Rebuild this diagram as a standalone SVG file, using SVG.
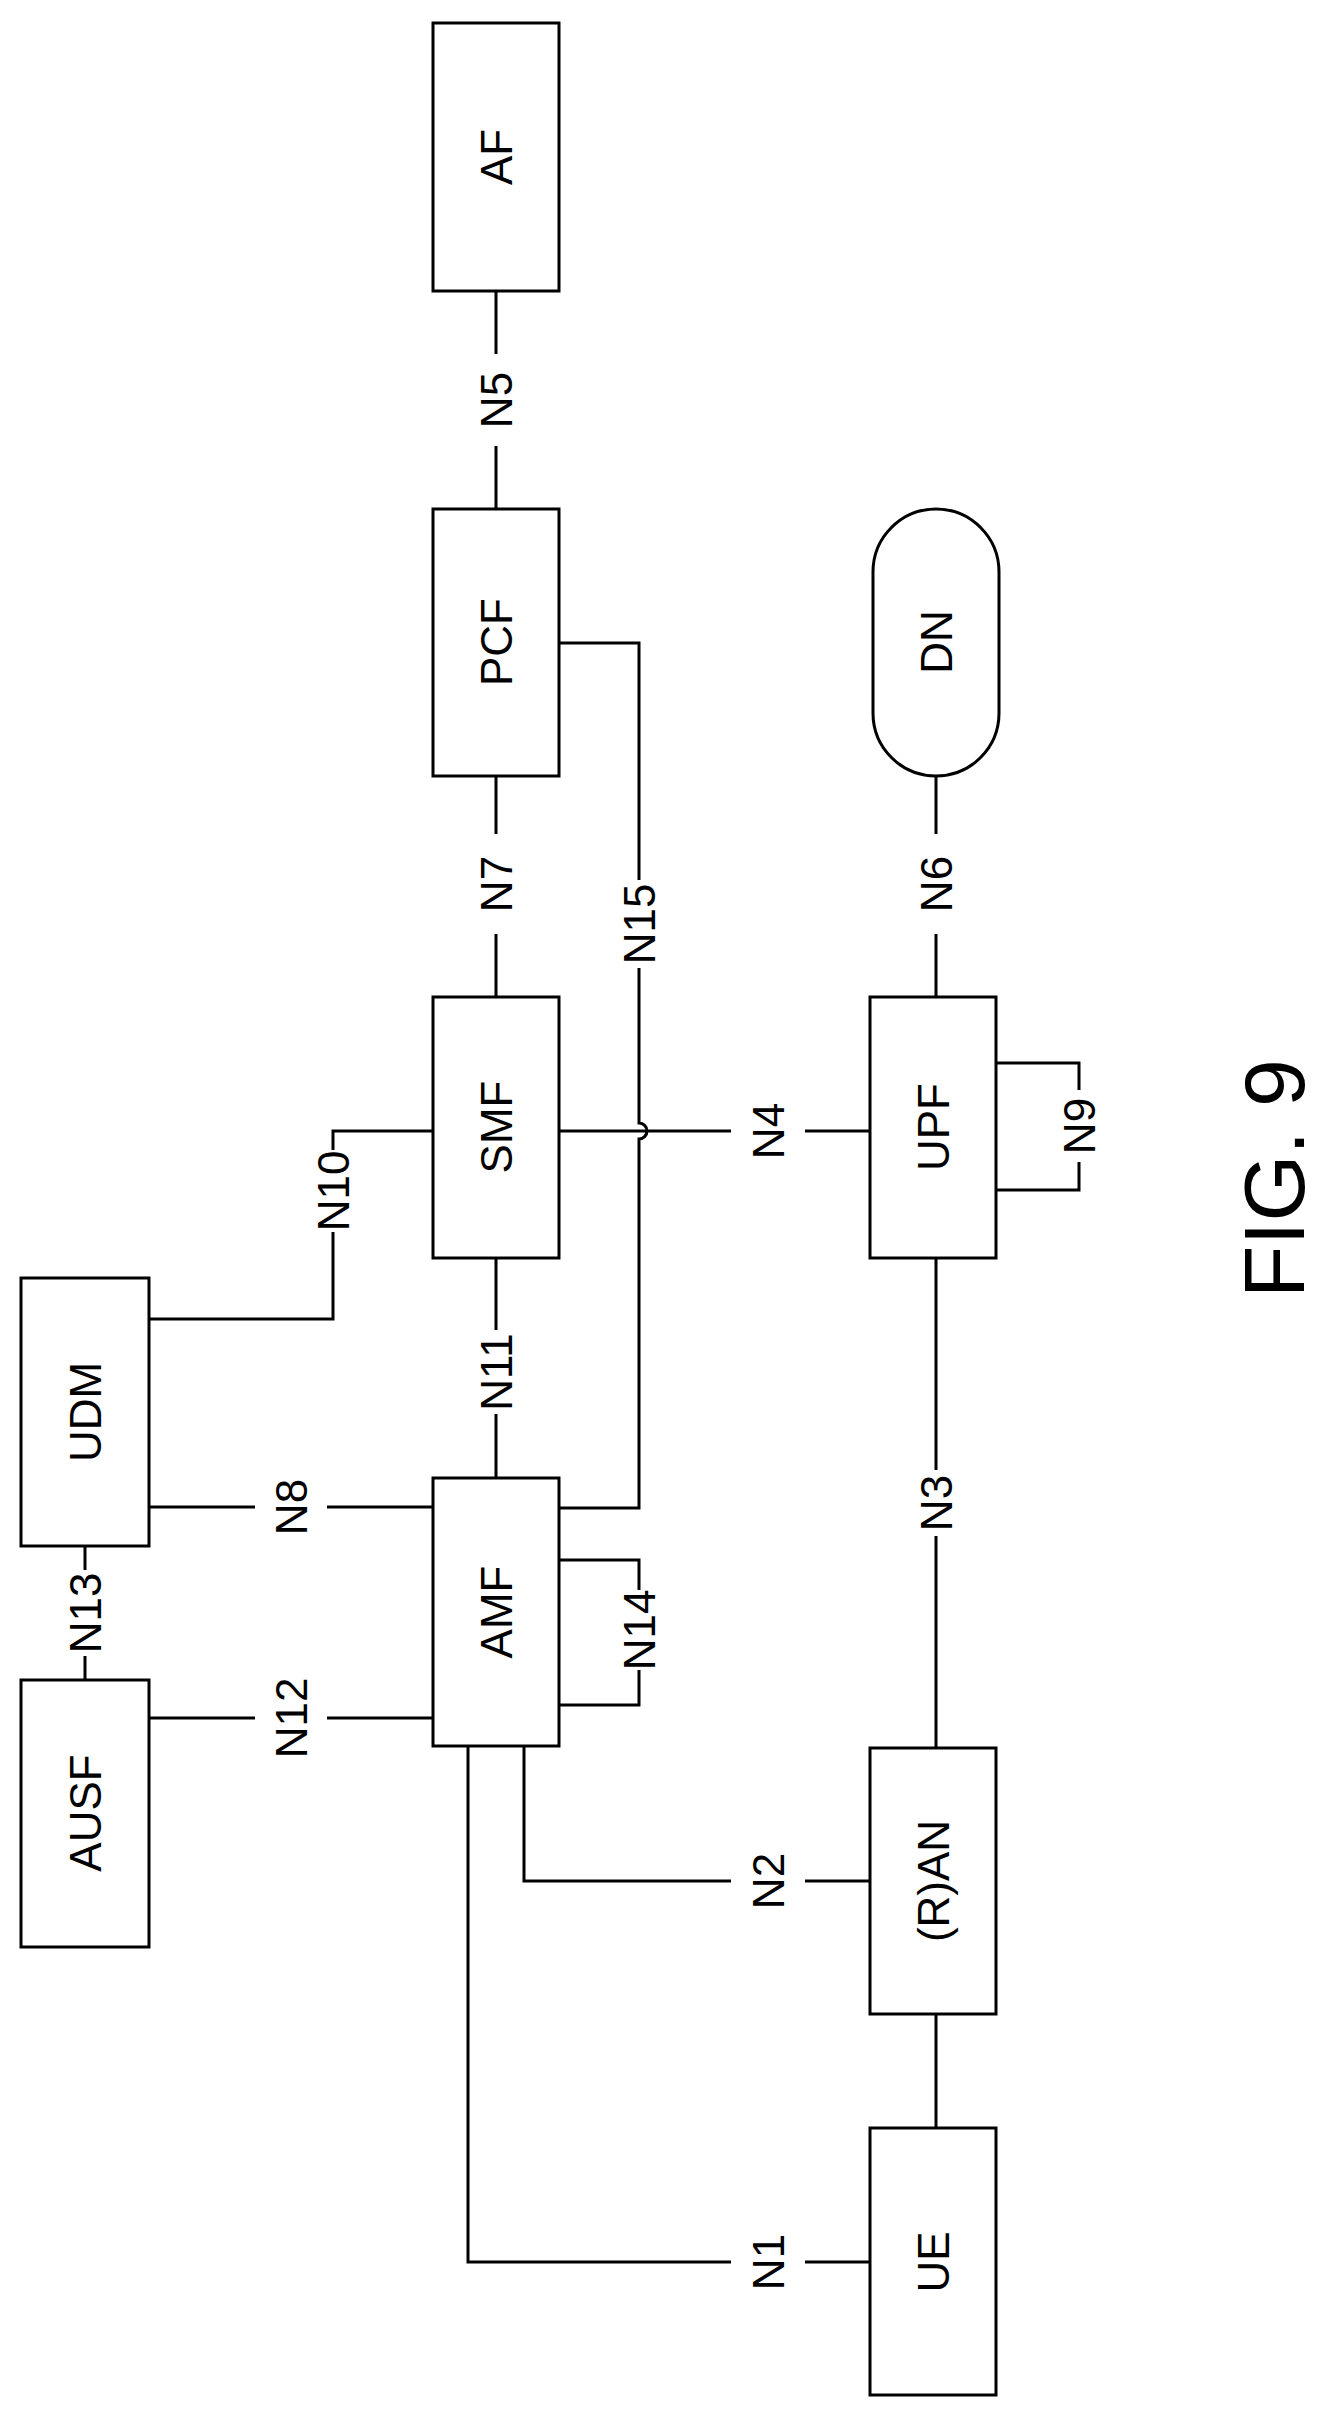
<svg xmlns="http://www.w3.org/2000/svg" width="1326" height="2417" viewBox="0 0 1326 2417">
<style>
.b{fill:#fff;stroke:#000;stroke-width:3}
.c{fill:none;stroke:#000;stroke-width:3}
.t{font-family:"Liberation Sans",Arial,sans-serif;font-size:44px;text-anchor:middle;fill:#000}
</style>
<rect width="1326" height="2417" fill="#fff"/>
<g id="connectors" class="c">
<path d="M496 291V354M496 446V509"/>
<path d="M496 776V834M496 934V997"/>
<path d="M559 643H639V880M639 968V1123a8 8 0 0 1 0 16V1508H559"/>
<path d="M936 776V834M936 934V997"/>
<path d="M559 1131H731M805 1131H870"/>
<path d="M433 1131H333V1150M333 1232V1319H149"/>
<path d="M996 1063H1079V1090M1079 1162V1190H996"/>
<path d="M496 1258V1330M496 1414V1478"/>
<path d="M85 1546V1570M85 1656V1680"/>
<path d="M149 1507H255M327 1507H433"/>
<path d="M149 1718H255M327 1718H433"/>
<path d="M559 1560H639V1590M639 1670V1705H559"/>
<path d="M936 1258V1470M936 1536V1748"/>
<path d="M524 1746V1881H731M805 1881H870"/>
<path d="M468 1746V2262H731M805 2262H870"/>
<path d="M936 2014V2128"/>
</g>
<g id="AF"><rect class="b" x="433" y="23" width="126" height="268"/><text class="t" transform="translate(496 157) rotate(-90)" dy="16">AF</text></g>
<g id="PCF"><rect class="b" x="433" y="509" width="126" height="267"/><text class="t" transform="translate(496 642) rotate(-90)" dy="16">PCF</text></g>
<g id="DN"><rect class="b" x="873" y="509" width="126" height="267" rx="63" ry="63"/><text class="t" transform="translate(936 642) rotate(-90)" dy="16">DN</text></g>
<g id="SMF"><rect class="b" x="433" y="997" width="126" height="261"/><text class="t" transform="translate(496 1127) rotate(-90)" dy="16">SMF</text></g>
<g id="UPF"><rect class="b" x="870" y="997" width="126" height="261"/><text class="t" transform="translate(933 1127) rotate(-90)" dy="16">UPF</text></g>
<g id="UDM"><rect class="b" x="21" y="1278" width="128" height="268"/><text class="t" transform="translate(85 1412) rotate(-90)" dy="16">UDM</text></g>
<g id="AUSF"><rect class="b" x="21" y="1680" width="128" height="267"/><text class="t" transform="translate(85 1813) rotate(-90)" dy="16">AUSF</text></g>
<g id="AMF"><rect class="b" x="433" y="1478" width="126" height="268"/><text class="t" transform="translate(496 1612) rotate(-90)" dy="16">AMF</text></g>
<g id="RAN"><rect class="b" x="870" y="1748" width="126" height="266"/><text class="t" transform="translate(933 1881) rotate(-90)" dy="16">(R)AN</text></g>
<g id="UE"><rect class="b" x="870" y="2128" width="126" height="267"/><text class="t" transform="translate(933 2262) rotate(-90)" dy="16">UE</text></g>
<g id="labels">
<text class="t" transform="translate(496 400) rotate(-90)" dy="16">N5</text>
<text class="t" transform="translate(496 884) rotate(-90)" dy="16">N7</text>
<text class="t" transform="translate(639 924) rotate(-90)" dy="16">N15</text>
<text class="t" transform="translate(936 884) rotate(-90)" dy="16">N6</text>
<text class="t" transform="translate(768 1131) rotate(-90)" dy="16">N4</text>
<text class="t" transform="translate(333 1191) rotate(-90)" dy="16">N10</text>
<text class="t" transform="translate(1079 1126) rotate(-90)" dy="16">N9</text>
<text class="t" transform="translate(496 1372) rotate(-90)" dy="16">N11</text>
<text class="t" transform="translate(85 1613) rotate(-90)" dy="16">N13</text>
<text class="t" transform="translate(291 1507) rotate(-90)" dy="16">N8</text>
<text class="t" transform="translate(291 1718) rotate(-90)" dy="16">N12</text>
<text class="t" transform="translate(639 1630) rotate(-90)" dy="16">N14</text>
<text class="t" transform="translate(936 1503) rotate(-90)" dy="16">N3</text>
<text class="t" transform="translate(768 1881) rotate(-90)" dy="16">N2</text>
<text class="t" transform="translate(768 2262) rotate(-90)" dy="16">N1</text>
<text class="t" style="font-size:86px;text-anchor:start" transform="translate(1304 1298) rotate(-90)">FIG. 9</text>
</g>
</svg>
